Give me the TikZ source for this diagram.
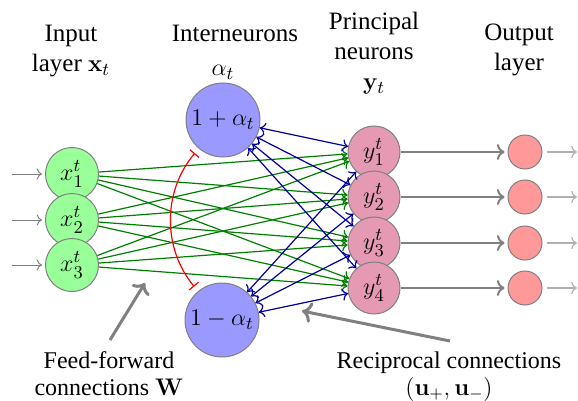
\documentclass[tikz,border=0pt]{standalone}
\usepackage{amsmath}
\usepackage[no-math]{fontspec}
\setmainfont{Liberation Serif}
\newfontfamily\capfont{Liberation Serif}
\usetikzlibrary{positioning, arrows.meta}

\begin{document}
\begin{tikzpicture}[x=0.5pt,y=-0.5pt,>={To},
  hd/.style={align=center,inner sep=0pt,anchor=north,font=\capfont\fontsize{12.5}{15}\selectfont},
  note/.style={align=center,inner sep=0pt,anchor=north,font=\capfont\fontsize{12}{13.5}\selectfont},
  nrn/.style={circle,draw=gray,line width=0.5pt,inner sep=0pt,font=\fontsize{13}{15}\selectfont},
  inn/.style={nrn,fill=green!40,minimum size=26.5pt},
  itn/.style={nrn,fill=blue!40,minimum size=37pt},
  prn/.style={nrn,fill=purple!40,minimum size=26pt},
  outn/.style={nrn,fill=red!40,minimum size=17pt},
  ffw/.style={->,green!50!black,line width=0.6pt},
  rec/.style={<->,blue!60!black,line width=0.6pt},
  annot/.style={->,gray,line width=1.5pt}]
  \useasboundingbox (0,0) rectangle (578,401);
  % layer titles
  \node[hd](hin) at (71,25) {Input\\ layer $\mathbf{x}_t$};
  \node[hd](hint) at (235,25) {Interneurons};
  \node[hd](hpr) at (374,12) {Principal\\ neurons\\ $\mathbf{y}_t$};
  \node[hd](hout) at (519,24) {Output\\ layer};
  % neurons
  \foreach \i/\yy in {1/174,2/220,3/265}{
    \node[inn](x\i) at (72,\yy) {$x_\i^t$};
    \coordinate (i\i) at (12,\yy);
  }
  \node[itn](a1) at (223,120) {$1+\alpha_t$};
  \node[itn](a2) at (222,320) {$1-\alpha_t$};
  \node[above=1.5pt of a1,inner sep=0pt,font=\fontsize{12.5}{15}\selectfont](alab) {$\alpha_t$};
  \foreach \j/\yy in {1/152,2/197,3/243,4/288}{
    \node[prn](y\j) at (374,\yy) {$y_\j^t$};
    \node[outn](r\j) at (525,\yy) {};
    \coordinate (o\j) at (577,\yy);
  }
  % connections
  \foreach \i in {1,2,3}{
    \draw[->,gray,line width=0.5pt,shorten >=1.5pt](i\i)--(x\i);
    \foreach \j in {1,...,4}{\draw[ffw](x\i)--(y\j);}
  }
  \foreach \a in {a1,a2}{\foreach \j in {1,...,4}{\draw[rec](\a)--(y\j);}}
  \foreach \j in {1,...,4}{
    \draw[->,gray,line width=1pt,shorten >=1.5pt](y\j)--(r\j);
    \draw[->,gray!60,line width=0.6pt,shorten <=2pt](r\j)--(o\j);
  }
  \draw[red,line width=0.6pt,{Bar[width=6pt]}-{Bar[width=6pt]},shorten <=3pt,shorten >=3pt](a1) to[bend right=40] (a2);
  % annotations
  \node[note](ffl) at (109,351) {Feed-forward\\ connections $\mathbf{W}$};
  \node[note](rcl) at (449,351) {Reciprocal connections\\ $(\mathbf{u}_+,\mathbf{u}_-)$};
  \coordinate (ffTip) at (145,283);
  \coordinate (rcTip) at (302,311);
  \draw[annot](ffl.north) ++(1,-11) -- (ffTip);
  \draw[annot](rcl.north) ++(1,-10) -- (rcTip);
\end{tikzpicture}
\end{document}
